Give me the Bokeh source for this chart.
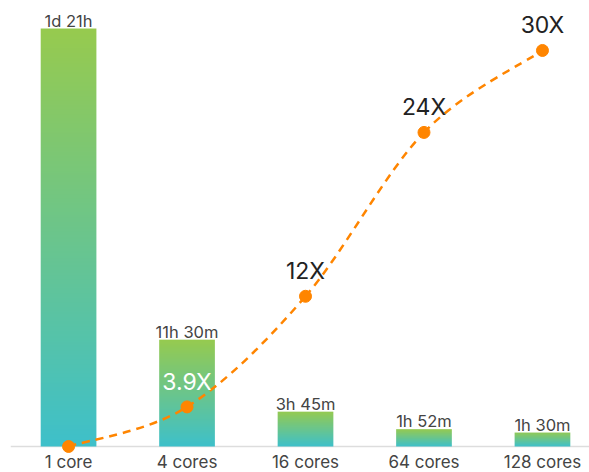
import numpy as np
from bokeh.plotting import figure
from bokeh.models import Range1d, Span
from bokeh.core.properties import value
from bokeh.embed import file_html
from bokeh.resources import INLINE

# Benchmark data: wall-clock runtime and speedup per core count
cores = ["1 core", "4 cores", "16 cores", "64 cores", "128 cores"]
runtime_minutes = [2700, 690, 225, 112, 90]
runtime_labels = ["1d 21h", "11h 30m", "3h 45m", "1h 52m", "1h 30m"]
speedup = [1, 3.9, 12, 24, 30]
speedup_labels = ["", "3.9X", "12X", "24X", "30X"]

FONT = "Inter"
ORANGE = "#ff8500"
GREEN = (0x97, 0xca, 0x4e)
TEAL = (0x3e, 0xc0, 0xca)

idx = np.arange(len(cores), dtype=float)
bar_w = 0.47

p = figure(
    width=589, height=472,
    x_range=Range1d(-0.49, 4.397),
    y_range=Range1d(-168, 2881),
    x_axis_location=None, y_axis_location=None,
    min_border_left=10, min_border_right=0,
    min_border_top=0, min_border_bottom=0,
    output_backend="svg", toolbar_location=None,
)
p.extra_y_ranges = {"speedup": Range1d(-0.904, 33.66)}
p.grid.visible = False
p.outline_line_color = None
p.background_fill_color = "white"
p.border_fill_color = "white"

# Baseline
p.add_layout(Span(location=0, dimension="width", line_color="#dddddd",
                  line_width=1.5, level="underlay"))

# Vertical gradient bars (teal at the bottom, green at the top)
n = 512
t = np.linspace(0, 1, n)[:, None]
rgba = np.zeros((n, 1, 4), dtype=np.uint8)
for c in range(3):
    rgba[:, :, c] = np.round(TEAL[c] + (GREEN[c] - TEAL[c]) * t).astype(np.uint8)
rgba[:, :, 3] = 255
grad = rgba.view(np.uint32).reshape(n, 1)

p.image_rgba(
    image=[grad] * len(cores),
    x=list(idx - bar_w / 2), y=[0] * len(cores),
    dw=[bar_w] * len(cores), dh=runtime_minutes,
)

# Runtime labels above bars
p.text(x=idx, y=runtime_minutes, text=runtime_labels,
       text_align="center", text_baseline="alphabetic", y_offset=-8,
       text_font=value(FONT), text_font_size="16.5px", text_color="#444444")

# Category labels under the baseline
p.text(x=idx, y=[0] * len(cores), text=cores,
       text_align="center", text_baseline="middle", y_offset=16,
       text_font=value(FONT), text_font_size="17px", text_color="#444444")

# Smooth speedup curve (Catmull-Rom through the points, as cubic Beziers)
pts = np.column_stack([idx, np.array(speedup, dtype=float)])
m = len(pts)
prev_pts = pts[np.clip(np.arange(m) - 1, 0, m - 1)]
next_pts = pts[np.clip(np.arange(m) + 1, 0, m - 1)]
tangent = (next_pts - prev_pts) / 6.0
p0 = pts[:-1]
p1 = pts[1:]
c0 = p0 + tangent[:-1]
c1 = p1 - tangent[1:]
p.bezier(x0=p0[:, 0], y0=p0[:, 1], x1=p1[:, 0], y1=p1[:, 1],
         cx0=c0[:, 0], cy0=c0[:, 1], cx1=c1[:, 0], cy1=c1[:, 1],
         line_color=ORANGE, line_width=2.5, line_dash="8 6",
         y_range_name="speedup")
p.scatter(idx, speedup, size=12, color=ORANGE, y_range_name="speedup")

label_colors = ["#222222", "#ffffff", "#222222", "#222222", "#222222"]
p.text(x=idx, y=speedup, text=speedup_labels, y_range_name="speedup",
       text_align="center", text_baseline="alphabetic", y_offset=-25,
       text_font=value(FONT), text_font_size="23px", text_color=label_colors)

open("out.html", "w").write(file_html(p, INLINE))
